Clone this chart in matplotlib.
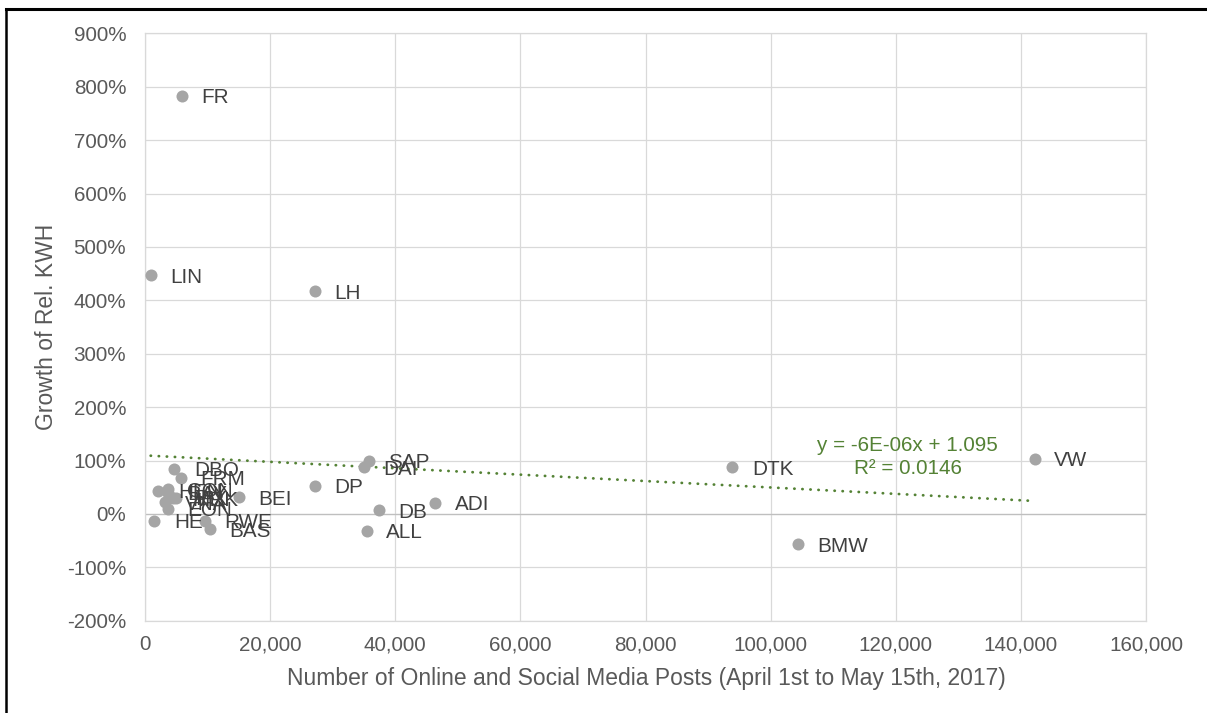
import matplotlib
matplotlib.use("Agg")
import matplotlib.pyplot as plt
from matplotlib.ticker import PercentFormatter, FuncFormatter, MultipleLocator
from matplotlib.lines import Line2D

plt.rcParams['font.family'] = ['Liberation Sans', 'DejaVu Sans']
plt.rcParams['axes.unicode_minus'] = False

# ---- data ----
names = ["FR", "LIN", "LH", "SAP", "DAI", "DP", "DB", "ADI", "ALL", "DTK", "VW", "BMW",
         "DBO", "FRM", "HEN", "CON", "BAY", "IFX", "MRK", "VNA", "EON", "HE", "RWE", "BAS", "BEI"]
posts = [5870, 910, 27200, 35730, 34930, 27200, 37330, 46400, 35470, 93900, 142240, 104370,
         4690, 5710, 2130, 3630, 3680, 4900, 4480, 3200, 3680, 1490, 9600, 10400, 15040]
growth = [7.83, 4.47, 4.17, 0.99, 0.87, 0.52, 0.07, 0.21, -0.32, 0.87, 1.035, -0.57,
          0.85, 0.68, 0.43, 0.46, 0.39, 0.30, 0.29, 0.22, 0.09, -0.13, -0.13, -0.29, 0.31]

trend_slope = -6e-06
trend_intercept = 1.095
trend_text = "y = -6E-06x + 1.095\nR\u00b2 = 0.0146"

x_ticks = [0, 20000, 40000, 60000, 80000, 100000, 120000, 140000, 160000]
xlabel = "Number of Online and Social Media Posts (April 1st to May 15th, 2017)"
ylabel = "Growth of Rel. KWH"

# ---- figure ----
W, H = 1207, 713
fig = plt.figure(figsize=(W / 100, H / 100), dpi=100)
ax = fig.add_axes([145 / W, 1 - 620.7 / H, (1146 - 145) / W, (620.7 - 33.3) / H])

tick_fs = 14.9
ax.set_xlim(0, 160000)
ax.set_ylim(-2.0, 9.0)
ax.set_xticks(x_ticks)
ax.yaxis.set_major_locator(MultipleLocator(1.0))
ax.xaxis.set_major_formatter(FuncFormatter(lambda v, p: f"{v:,.0f}"))
ax.yaxis.set_major_formatter(PercentFormatter(xmax=1, decimals=0))
ax.tick_params(axis='both', length=0, labelsize=tick_fs, labelcolor='#595959')
ax.tick_params(axis='x', pad=10.5)
ax.tick_params(axis='y', pad=13.5)

ax.grid(True, color='#D9D9D9', linewidth=0.9)
ax.set_axisbelow(True)
for s in ax.spines.values():
    s.set_color('#D9D9D9')
    s.set_linewidth(0.9)
ax.axhline(0, color='#BFBFBF', linewidth=0.9, zorder=1)

# points
ax.scatter(posts, growth, s=75, color='#A5A5A5', zorder=3, linewidths=0)

# labels
for n, xv, yv in zip(names, posts, growth):
    ax.annotate(n, (xv, yv), xytext=(14.0, -5.3), textcoords='offset points',
                ha='left', va='baseline', fontsize=tick_fs, color='#404040', zorder=4)

# trendline
xmin, xmax = min(posts), max(posts)
ax.plot([xmin, xmax],
        [trend_slope * xmin + trend_intercept, trend_slope * xmax + trend_intercept],
        color='#548235', linewidth=2.0, linestyle=(0, (0.1, 2.8)),
        dash_capstyle='round', zorder=2)
ax.text(121870, 1.065, trend_text, ha='center', va='center', fontsize=tick_fs,
        color='#548235', linespacing=1.25, multialignment='center', zorder=4)

# axis titles
fig.text(646 / W, 1 - 678 / H, xlabel, ha='center', va='center',
         fontsize=16.5, color='#595959')
fig.text(47 / W, 1 - 326.5 / H, ylabel, ha='center', va='center', rotation=90,
         fontsize=16.5, color='#595959')

# outer border
fig.add_artist(Line2D([5.5 / W, 5.5 / W], [0, 1 - 8.5 / H], transform=fig.transFigure,
                      color='black', linewidth=1.8))
fig.add_artist(Line2D([5.5 / W, 1], [1 - 8.5 / H, 1 - 8.5 / H], transform=fig.transFigure,
                      color='black', linewidth=2.2))

fig.savefig("out.png", dpi=100)
